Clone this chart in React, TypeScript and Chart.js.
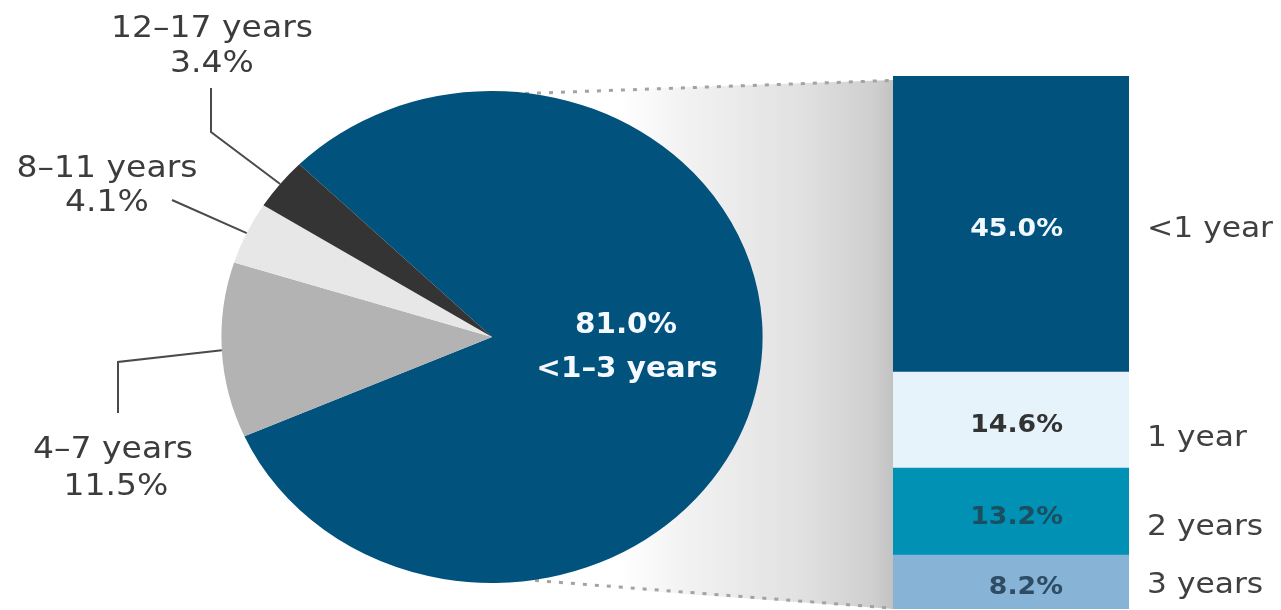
import React, { useEffect, useRef } from 'react';
import { Chart, registerables } from 'chart.js';

Chart.register(...registerables);

// ---- Pie data ----
const pieLabels = ['<1–3 years', '4–7 years', '8–11 years', '12–17 years'];
const pieValues = [81.0, 11.5, 4.1, 3.4];
const pieColors = ['#02527e', '#b3b3b3', '#e7e7e7', '#343434'];

// ---- Breakdown bar data (bottom to top) ----
const barLabels = ['3 years', '2 years', '1 year', '<1 year'];
const barValues = [8.2, 13.2, 14.6, 45.0];
const barColors = ['#86b3d6', '#0191b5', '#e6f3fb', '#02527e'];
const barTextColors = ['#2e4c63', '#1b4e60', '#333333', '#f2f8ff'];

const SX = 1.1; // horizontal stretch of the source artwork

function txt(ctx: CanvasRenderingContext2D, s: string, x: number, y: number, font: string, color: string, align: CanvasTextAlign, sx: number) {
  ctx.save();
  ctx.translate(x, y);
  ctx.scale(sx, 1);
  ctx.font = font;
  ctx.fillStyle = color;
  ctx.textAlign = align;
  ctx.textBaseline = 'alphabetic';
  ctx.fillText(s, 0, 0);
  ctx.restore();
}

const pct = (v: number) => v.toFixed(1) + '%';

const piePlugin = {
  id: 'pieDecor',
  beforeDatasetsDraw(chart: any) {
    const ctx = chart.ctx;
    const a = chart.chartArea;
    const cx = (a.left + a.right) / 2;
    ctx.save();
    ctx.translate(cx, 0);
    ctx.scale(SX, 1);
    ctx.translate(-cx, 0);
  },
  afterDatasetsDraw(chart: any) {
    const ctx: CanvasRenderingContext2D = chart.ctx;
    ctx.restore();
    const arcs = chart.getDatasetMeta(0).data;
    const edge = (i: number): [number, number] => {
      const p = arcs[i].getProps(['x', 'y', 'startAngle', 'endAngle', 'outerRadius'], true);
      const m = (p.startAngle + p.endAngle) / 2;
      return [p.x + Math.cos(m) * p.outerRadius * SX, p.y + Math.sin(m) * p.outerRadius];
    };
    const leaders: Record<number, [number, number][]> = {
      3: [[211, 88], [211, 132]],
      2: [[172, 200]],
      1: [[118, 413], [118, 362]],
    };
    ctx.save();
    ctx.strokeStyle = '#4a4a4a';
    ctx.lineWidth = 2;
    Object.keys(leaders).forEach((k) => {
      const i = Number(k);
      const pts = [...leaders[i], edge(i)];
      ctx.beginPath();
      ctx.moveTo(pts[0][0], pts[0][1]);
      for (let j = 1; j < pts.length; j++) ctx.lineTo(pts[j][0], pts[j][1]);
      ctx.stroke();
    });
    ctx.restore();

    const f = '30px "DejaVu Sans"';
    const c = '#3c3c3c';
    txt(ctx, pieLabels[3], 212, 37, f, c, 'center', SX);
    txt(ctx, pct(pieValues[3]), 212, 72, f, c, 'center', SX);
    txt(ctx, pieLabels[2], 107, 177, f, c, 'center', SX);
    txt(ctx, pct(pieValues[2]), 107, 211, f, c, 'center', SX);
    txt(ctx, pieLabels[1], 113, 458, f, c, 'center', SX);
    txt(ctx, pct(pieValues[1]), 116, 495, f, c, 'center', SX);

    const fb = 'bold 28px "DejaVu Sans"';
    txt(ctx, pct(pieValues[0]), 626, 333, fb, '#f4faff', 'center', 1.05);
    txt(ctx, pieLabels[0], 627, 377, fb, '#f4faff', 'center', 1.05);
  },
};

const barPlugin = {
  id: 'barDecor',
  beforeDatasetsDraw(chart: any) {
    const ctx: CanvasRenderingContext2D = chart.ctx;
    const ys = chart.scales.y;
    const el = chart.getDatasetMeta(0).data[0];
    const left = el.x - el.width / 2;
    const top = ys.getPixelForValue(ys.max);
    const bottom = ys.getPixelForValue(0);
    ctx.save();
    const g = ctx.createLinearGradient(620, 0, left, 0);
    g.addColorStop(0, '#ffffff');
    g.addColorStop(0.22, '#f3f3f4');
    g.addColorStop(0.66, '#e1e1e2');
    g.addColorStop(0.93, '#cfcfcf');
    g.addColorStop(1, '#c2c2c2');
    ctx.fillStyle = g;
    ctx.beginPath();
    ctx.moveTo(492, 94);
    ctx.lineTo(left, top + 4);
    ctx.lineTo(left, bottom);
    ctx.lineTo(492, 580);
    ctx.closePath();
    ctx.fill();
    ctx.setLineDash([4, 8]);
    ctx.lineWidth = 3;
    ctx.strokeStyle = '#a3a3a3';
    ctx.beginPath();
    ctx.moveTo(525, 93.5);
    ctx.lineTo(left - 3, top + 4.5);
    ctx.stroke();
    ctx.beginPath();
    ctx.moveTo(535, 580.5);
    ctx.lineTo(left - 3, bottom - 1);
    ctx.stroke();
    ctx.restore();
  },
  afterDatasetsDraw(chart: any) {
    const ctx: CanvasRenderingContext2D = chart.ctx;
    const nudges = [11, 23.5, 26, 13];
    barLabels.forEach((lab, i) => {
      const el = chart.getDatasetMeta(i).data[0];
      const mid = (el.y + el.base) / 2;
      const right = el.x + el.width / 2;
      txt(ctx, pct(barValues[i]), el.x + 52, mid + 12, 'bold 25px "DejaVu Sans"', barTextColors[i], 'right', 1.07);
      txt(ctx, lab, right + 18, mid + nudges[i], '29px "DejaVu Sans"', '#404040', 'left', 1.08);
    });
  },
};

export default function App() {
  const barRef = useRef<HTMLCanvasElement>(null);
  const pieRef = useRef<HTMLCanvasElement>(null);

  useEffect(() => {
    const total = barValues.reduce((s, v) => s + v, 0);
    const bar = new Chart(barRef.current as HTMLCanvasElement, {
      type: 'bar',
      data: {
        labels: [''],
        datasets: barLabels.map((l, i) => ({
          label: l,
          data: [barValues[i]],
          backgroundColor: barColors[i],
          borderWidth: 0,
          barPercentage: 1,
          categoryPercentage: 1,
        })),
      },
      options: {
        responsive: false,
        animation: false,
        events: [],
        layout: { padding: { left: 893, right: 152, top: 76, bottom: 1 } },
        scales: {
          x: { display: false, stacked: true },
          y: { display: false, stacked: true, min: 0, max: total },
        },
        plugins: { legend: { display: false }, tooltip: { enabled: false } },
      },
      plugins: [barPlugin],
    } as any);

    const pie = new Chart(pieRef.current as HTMLCanvasElement, {
      type: 'pie',
      data: {
        labels: pieLabels,
        datasets: [{ data: pieValues, backgroundColor: pieColors, borderWidth: 0 }],
      },
      options: {
        responsive: false,
        animation: false,
        events: [],
        rotation: -45.4,
        layout: { padding: { left: 0, right: 297, top: 91, bottom: 27 } },
        plugins: { legend: { display: false }, tooltip: { enabled: false } },
      },
      plugins: [piePlugin],
    } as any);

    return () => {
      bar.destroy();
      pie.destroy();
    };
  }, []);

  return (
    <div style={{ position: 'fixed', left: 0, top: 0, width: 1281, height: 610, background: '#ffffff', overflow: 'hidden' }}>
      <canvas ref={barRef} width={1281} height={610} style={{ position: 'absolute', left: 0, top: 0 }} />
      <canvas ref={pieRef} width={1281} height={610} style={{ position: 'absolute', left: 0, top: 0 }} />
    </div>
  );
}
